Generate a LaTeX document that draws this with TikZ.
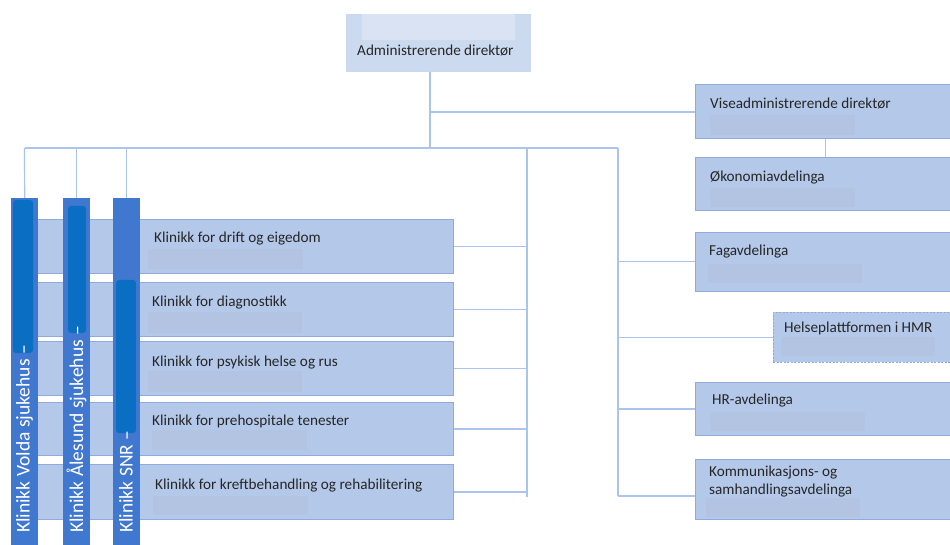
\documentclass[tikz,border=0pt]{standalone}
\usepackage{fontspec}
\setmainfont{Carlito}
\definecolor{boxfill}{HTML}{B4C8EA}
\definecolor{boxedge}{HTML}{8FABD9}
\definecolor{shade}{HTML}{B3C3E2}
\definecolor{topfill}{HTML}{CCDAF0}
\definecolor{topinner}{HTML}{D9E3F4}
\definecolor{barouter}{HTML}{4178CF}
\definecolor{barinner}{HTML}{0A6FC2}
\definecolor{wire}{HTML}{AAC4EC}
\definecolor{ink}{HTML}{262626}
\tikzset{
  unit/.style={draw=boxedge, fill=boxfill, line width=0.8pt, anchor=north west, inner sep=0pt},
  lbl/.style={anchor=base west, inner sep=0pt, text=ink, font=\fontsize{15.2}{18}\selectfont},
  shadebox/.style={fill=shade, draw=none},
  bar/.style={fill=barouter, draw=none, anchor=north west, inner sep=0pt, minimum width=27pt, minimum height=350pt},
  barcore/.style={fill=barinner, rounded corners=3pt},
  vlbl/.style={rotate=90, anchor=base west, inner sep=0pt, text=white, font=\fontsize{19.5}{22}\selectfont},
  wirestyle/.style={draw=wire, line width=1.2pt},
}
\begin{document}
\begin{tikzpicture}[x=1pt, y=-1pt]
\useasboundingbox (0,0) rectangle (950,545);

% --- top level ---
\node[unit, draw=topinner!80!boxedge, fill=topfill, minimum width=184pt, minimum height=57pt] (ad) at (346,14) {};
\fill[topinner] (362,14) rectangle (515,40);
\node[lbl] (adtxt) at (357,56) {Administrerende direktør};

% --- staff units on the right ---
\node[unit, minimum width=260pt, minimum height=54pt] (vad) at (695,84) {};
\fill[shadebox] (710,115) rectangle (855,135);
\node[lbl] (vadtxt) at (710,109) {Viseadministrerende direktør};

\node[unit, minimum width=260pt, minimum height=53pt] (oek) at (695,157) {};
\fill[shadebox] (710,188) rectangle (855,207);
\node[lbl] (oektxt) at (710,182) {Økonomiavdelinga};

\node[unit, minimum width=260pt, minimum height=59pt] (fag) at (695,232) {};
\fill[shadebox] (708,264) rectangle (862,283);
\node[lbl] (fagtxt) at (709,256) {Fagavdelinga};

\node[unit, dashed, dash pattern=on 2pt off 1.5pt, minimum width=182pt, minimum height=50pt] (hp) at (773,312) {};
\fill[shadebox] (781,337) rectangle (935,356);
\node[lbl] (hptxt) at (784,332) {Helseplattformen i HMR};

\node[unit, minimum width=260pt, minimum height=53pt] (hr) at (695,382) {};
\fill[shadebox] (710,412) rectangle (865,431);
\node[lbl] (hrtxt) at (712,404) {HR-avdelinga};

\node[unit, minimum width=260pt, minimum height=60pt] (kom) at (695,459) {};
\fill[shadebox] (706,498) rectangle (860,517);
\node[lbl] (komtxt) at (709,476) {Kommunikasjons- og};
\node[lbl] (komtxt2) at (709,494) {samhandlingsavdelinga};

% --- clinics ---
\node[unit, minimum width=442pt, minimum height=54pt] (k1) at (11,219) {};
\fill[shadebox] (148,249) rectangle (303,269);
\node[lbl] (k1txt) at (154,243) {Klinikk for drift og eigedom};

\node[unit, minimum width=442pt, minimum height=54pt] (k2) at (11,282) {};
\fill[shadebox] (148,312) rectangle (302,333);
\node[lbl] (k2txt) at (152,306) {Klinikk for diagnostikk};

\node[unit, minimum width=442pt, minimum height=54pt] (k3) at (11,341) {};
\fill[shadebox] (148,371) rectangle (302,392);
\node[lbl] (k3txt) at (152,366) {Klinikk for psykisk helse og rus};

\node[unit, minimum width=442pt, minimum height=53pt] (k4) at (11,402) {};
\fill[shadebox] (152,430) rectangle (307,450);
\node[lbl] (k4txt) at (152,425) {Klinikk for prehospitale tenester};

\node[unit, minimum width=442pt, minimum height=55pt] (k5) at (11,464) {};
\fill[shadebox] (153,496) rectangle (308,515);
\node[lbl] (k5txt) at (155,489) {Klinikk for kreftbehandling og rehabilitering};

% --- hospital bars ---
\node[bar] (volda) at (11,198) {};
\fill[barcore] (13,200) rectangle (33,353);
\node[vlbl] (voldatxt) at (29.5,533) {Klinikk Volda sjukehus –};

\node[bar] (aal) at (63,198) {};
\fill[barcore] (68,206) rectangle (86,333);
\node[vlbl] (aaltxt) at (83,533) {Klinikk Ålesund sjukehus –};

\node[bar] (snr) at (113,198) {};
\fill[barcore] (116,280) rectangle (136,433);
\node[vlbl] (snrtxt) at (132.5,533) {Klinikk SNR –};

% --- connectors ---
\coordinate (j1) at (430,112);
\coordinate (j2) at (430,148);
\coordinate (bl) at (24.5,148);
\coordinate (cl) at (527,148);
\coordinate (cr) at (618,148);
\coordinate (cb) at (527,497);
\coordinate (rb) at (618,496);

\draw[wirestyle] (ad.south -| j2) -- (j2);
\draw[wirestyle] (j1) -- (vad.west |- j1);
\draw[wirestyle] (vad.south) -- (oek.north);
\draw[wirestyle] (bl) -- (cr);
\draw[wirestyle] (bl) -- (volda.north);
\draw[wirestyle] (aal.north |- j2) -- (aal.north);
\draw[wirestyle] (snr.north |- j2) -- (snr.north);
\draw[wirestyle] (cl) -- (cb);
\draw[wirestyle] (cr) -- (rb);
\foreach \k in {k1,k2,k3,k4,k5}
  \draw[wirestyle] (\k.east) -- (\k.east -| cl);
\foreach \r in {fag,hp,hr}
  \draw[wirestyle] (\r.west -| cr) -- (\r.west);
\draw[wirestyle] (rb) -- (kom.west |- rb);
\end{tikzpicture}
\end{document}
